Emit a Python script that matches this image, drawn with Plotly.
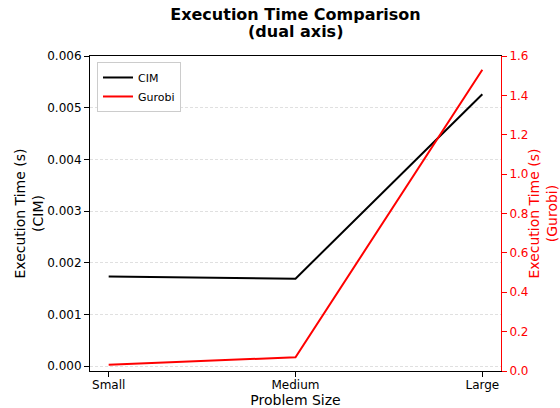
import plotly.graph_objects as go

# Problem sizes and measured execution times (seconds)
sizes = ["Small", "Medium", "Large"]
cim_times = [0.00173, 0.00169, 0.00526]
gurobi_times = [0.032, 0.07, 1.53]

x_pos = list(range(len(sizes)))

fig = go.Figure()
fig.add_trace(go.Scatter(
    x=x_pos, y=cim_times, mode="lines", name="CIM",
    line=dict(color="black", width=2), yaxis="y",
))
fig.add_trace(go.Scatter(
    x=x_pos, y=gurobi_times, mode="lines", name="Gurobi",
    line=dict(color="red", width=2), yaxis="y2",
))

font_family = "DejaVu Sans"
title_x = (90 + 501) / 2 / 560

fig.update_layout(
    width=560, height=408,
    margin=dict(l=90, r=59, t=56, b=37),
    paper_bgcolor="white", plot_bgcolor="white",
    font=dict(family=font_family, size=12, color="black"),
    title=dict(
        text="<b>Execution Time Comparison</b>",
        x=title_x, xanchor="center",
        y=1 - 14 / 408, yanchor="middle", yref="container",
        font=dict(size=16, family=font_family),
    ),
    annotations=[dict(
        text="<b>(dual axis)</b>", showarrow=False,
        xref="paper", yref="paper",
        x=0.5, y=1 + (56 - 31) / 315, xanchor="center", yanchor="middle",
        font=dict(size=16, family=font_family, color="black"),
    )],
    xaxis=dict(
        range=[-0.1, 2.1], tickmode="array", tickvals=x_pos, ticktext=sizes,
        showline=True, linecolor="black", linewidth=1, mirror=True,
        ticks="outside", ticklen=5, tickcolor="black", ticklabelstandoff=-2,
        showgrid=False, zeroline=False, automargin=False,
        title=dict(text="Problem Size", font=dict(size=14)),
        tickfont=dict(size=12),
    ),
    yaxis=dict(
        range=[-0.0000968, 0.006], dtick=0.001, tick0=0, tickformat=".3f",
        showline=True, linecolor="black", linewidth=1,
        ticks="outside", ticklen=5, tickcolor="black",
        showgrid=True, gridcolor="#e0e0e0", griddash="3px,2px", gridwidth=1,
        zeroline=False, automargin=True,
        title=dict(text="Execution Time (s)<br>(CIM)", font=dict(size=14), standoff=0),
        tickfont=dict(size=12),
    ),
    yaxis2=dict(
        range=[0, 1.6], dtick=0.2, tick0=0, tickformat=".1f",
        overlaying="y", side="right",
        showline=True, linecolor="red", linewidth=1,
        ticks="outside", ticklen=5, tickcolor="red",
        showgrid=False, zeroline=False, automargin=False,
        title=dict(text="Execution Time (s)<br>(Gurobi)", font=dict(size=14, color="red")),
        tickfont=dict(size=12, color="red"),
    ),
    legend=dict(
        x=0.017, y=0.981, xanchor="left", yanchor="top",
        bgcolor="white", bordercolor="#cccccc", borderwidth=1,
        font=dict(size=11), tracegroupgap=0,
    ),
    showlegend=True,
)

fig.write_html("out.html")
